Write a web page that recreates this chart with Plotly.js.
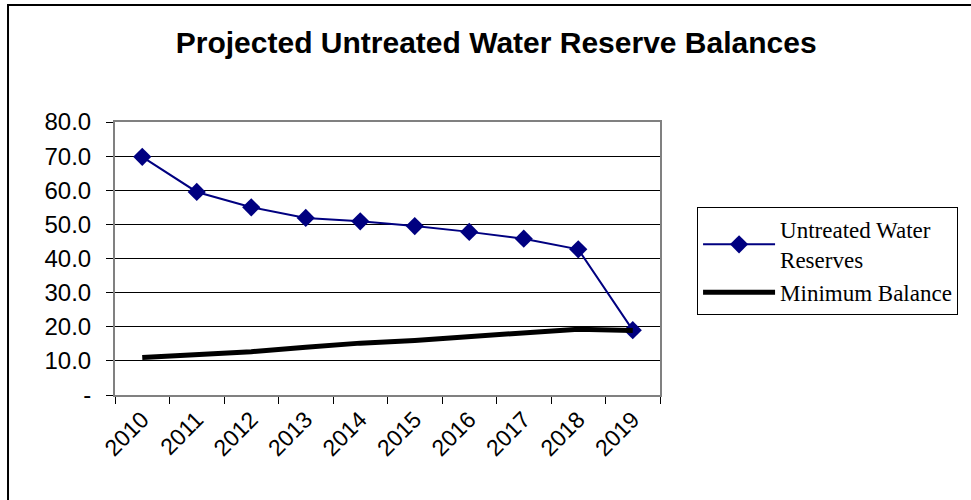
<!DOCTYPE html>
<html>
<head>
<meta charset="utf-8">
<script src="https://cdn.plot.ly/plotly-3.0.1.min.js"></script>
<style>html,body{margin:0;padding:0;background:#fff;}#chart{width:971px;height:500px;}</style>
</head>
<body>
<div id="chart"></div>
<script>
const years = ['2010','2011','2012','2013','2014','2015','2016','2017','2018','2019'];
const untreatedReserves = [69.8, 59.5, 55.0, 51.9, 50.9, 49.5, 47.8, 45.8, 42.7, 19.0];
const minimumBalance = [11.0, 11.9, 12.7, 14.0, 15.2, 16.0, 17.0, 18.1, 19.3, 18.9];
const yTickVals = [0, 10, 20, 30, 40, 50, 60, 70, 80];
const yTickText = ['-', '10.0', '20.0', '30.0', '40.0', '50.0', '60.0', '70.0', '80.0'];

const traces = [
  {
    x: years, y: untreatedReserves, type: 'scatter', mode: 'lines+markers',
    name: 'Untreated Water<br>Reserves',
    line: {color: '#000080', width: 2},
    marker: {symbol: 'diamond', size: 14, color: '#000080'}
  },
  {
    x: years, y: minimumBalance, type: 'scatter', mode: 'lines',
    name: 'Minimum Balance',
    line: {color: '#000000', width: 5}
  }
];

const layout = {
  width: 971, height: 500,
  margin: {l: 115, r: 311, t: 122, b: 105},
  paper_bgcolor: '#ffffff', plot_bgcolor: '#ffffff',
  font: {family: 'Liberation Sans, Arial, sans-serif', color: '#000'},
  title: {
    text: '<b>Projected Untreated Water Reserve Balances</b>',
    font: {family: 'Liberation Sans, Arial, sans-serif', size: 30, color: '#000'},
    x: 0.511, xref: 'container', xanchor: 'center',
    y: 0.916, yref: 'container', yanchor: 'middle'
  },
  xaxis: {
    type: 'category', tickson: 'boundaries', range: [-0.5, 9.5],
    ticks: 'outside', ticklen: 7, tickcolor: '#000', tickwidth: 1,
    showgrid: false, showline: true, linecolor: '#808080', linewidth: 2, mirror: true,
    tickangle: -45, tickfont: {size: 23, family: 'Liberation Sans, Arial, sans-serif'},
    zeroline: false
  },
  yaxis: {
    range: [0, 80], tickvals: yTickVals, ticktext: yTickText,
    ticks: 'outside', ticklen: 7, tickcolor: '#000', tickwidth: 1,
    showgrid: true, gridcolor: '#000000', gridwidth: 1,
    showline: true, linecolor: '#808080', linewidth: 2, mirror: true,
    tickfont: {size: 24, family: 'Liberation Sans, Arial, sans-serif'},
    ticklabelstandoff: 10,
    zeroline: false
  },
  showlegend: true,
  legend: {
    x: 1.068, xanchor: 'left', y: 0.689, yanchor: 'top',
    bordercolor: '#000', borderwidth: 1, bgcolor: '#fff',
    font: {family: 'Liberation Serif, Times New Roman, serif', size: 23, color: '#000'},
    itemwidth: 72, tracegroupgap: 0
  },
  shapes: [
    {type: 'rect', xref: 'paper', yref: 'paper', x0: -0.1963, x1: 1.6, y0: -0.45, y1: 1.4286,
     line: {color: '#000', width: 2}, fillcolor: 'rgba(0,0,0,0)', layer: 'below'}
  ]
};

Plotly.newPlot('chart', traces, layout, {displayModeBar: false, staticPlot: true});
</script>
</body>
</html>
